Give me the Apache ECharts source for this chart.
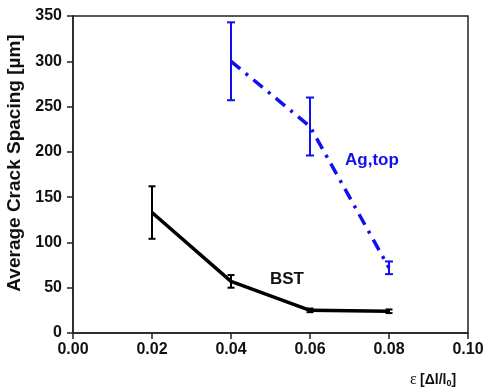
<!DOCTYPE html>
<html>
<head>
<meta charset="utf-8">
<script src="https://cdn.jsdelivr.net/npm/echarts@6/dist/echarts.min.js"></script>
<style>
  html, body { margin: 0; padding: 0; background: #fff; }
  #chart { width: 487px; height: 388px; }
</style>
</head>
<body>
<div id="chart"></div>
<script>
// Strain values (ε = Δl/l0)
var strainBST = [0.02, 0.04, 0.06, 0.08];
var spacingBST = [133, 57, 25, 24];
var errBST = [29, 7, 2, 2];

var strainAg = [0.04, 0.06, 0.08];
var spacingAg = [300, 228, 72];
var errAg = [43, 32, 7];

var FONT = '"Liberation Sans", Arial, sans-serif';
var BLUE = '#1010f0';

function pairs(xs, ys) {
  return xs.map(function (x, i) { return [x, ys[i]]; });
}
function errData(xs, ys, es) {
  return xs.map(function (x, i) { return [x, ys[i] - es[i], ys[i] + es[i]]; });
}
function errRenderer(color, capHalf, width) {
  return function (params, api) {
    var lo = api.coord([api.value(0), api.value(1)]);
    var hi = api.coord([api.value(0), api.value(2)]);
    var style = { stroke: color, lineWidth: width };
    return {
      type: 'group',
      children: [
        { type: 'line', shape: { x1: lo[0], y1: lo[1], x2: hi[0], y2: hi[1] }, style: style },
        { type: 'line', shape: { x1: lo[0] - capHalf, y1: lo[1], x2: lo[0] + capHalf, y2: lo[1] }, style: style },
        { type: 'line', shape: { x1: hi[0] - capHalf, y1: hi[1], x2: hi[0] + capHalf, y2: hi[1] }, style: style }
      ]
    };
  };
}

var chart = echarts.init(document.getElementById('chart'), null, { renderer: 'canvas' });

var axisLine = { show: true, onZero: false, lineStyle: { color: '#222', width: 1.5 } };
var tick = { show: true, inside: false, length: 6, lineStyle: { color: '#222', width: 1.5 } };
var labelStyle = { color: '#111', fontWeight: 'bold', fontSize: 16, fontFamily: FONT };

chart.setOption({
  backgroundColor: '#fff',
  animation: false,
  grid: { left: 73, right: 19, top: 16, bottom: 55, show: true, borderColor: '#222', borderWidth: 1.5, backgroundColor: 'transparent' },
  xAxis: {
    type: 'value', min: 0, max: 0.1, interval: 0.02,
    axisLine: axisLine, axisTick: tick,
    axisLabel: Object.assign({ margin: 9, formatter: function (v) { return v.toFixed(2); } }, labelStyle),
    splitLine: { show: false }
  },
  yAxis: {
    type: 'value', min: 0, max: 350, interval: 50,
    axisLine: axisLine, axisTick: tick,
    axisLabel: Object.assign({ margin: 11 }, labelStyle),
    splitLine: { show: false }
  },
  series: [
    {
      name: 'BST', type: 'line', data: pairs(strainBST, spacingBST),
      symbol: 'none', lineStyle: { color: '#000', width: 3.5 }, z: 3
    },
    {
      name: 'BST err', type: 'custom', data: errData(strainBST, spacingBST, errBST),
      renderItem: errRenderer('#000', 3.5, 2), encode: { x: 0, y: [1, 2] }, z: 4
    },
    {
      name: 'Ag,top', type: 'line', data: pairs(strainAg, spacingAg),
      symbol: 'none', lineStyle: { color: BLUE, width: 3.5, type: [12, 7, 3, 7] }, z: 3
    },
    {
      name: 'Ag err', type: 'custom', data: errData(strainAg, spacingAg, errAg),
      renderItem: errRenderer(BLUE, 4, 2), encode: { x: 0, y: [1, 2] }, z: 4
    }
  ],
  graphic: [
    {
      type: 'text', x: 15, y: 163, rotation: Math.PI / 2,
      style: {
        text: 'Average Crack Spacing [µm]', fill: '#111', font: 'bold 19px ' + FONT,
        align: 'center', verticalAlign: 'middle'
      }
    },
    {
      type: 'text', x: 410, y: 372,
      style: {
        text: '{e|ε} {a|[Δl/l}{s|0}{a|]}',
        rich: {
          e: { font: '16px "Liberation Serif", serif', fill: '#111' },
          a: { font: 'bold 14px ' + FONT, fill: '#111' },
          s: { font: 'bold 9px ' + FONT, fill: '#111', verticalAlign: 'bottom', padding: [6, 0, 0, 0] }
        }
      }
    },
    {
      type: 'text', x: 345, y: 152,
      style: { text: 'Ag,top', fill: BLUE, font: 'bold 17px ' + FONT }
    },
    {
      type: 'text', x: 270, y: 271,
      style: { text: 'BST', fill: '#111', font: 'bold 17px ' + FONT }
    }
  ]
});
</script>
</body>
</html>
